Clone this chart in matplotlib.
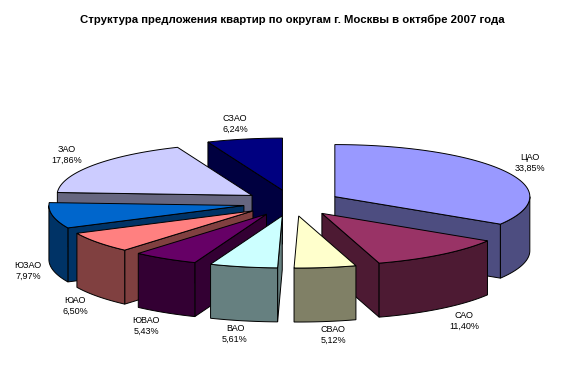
import numpy as np
import matplotlib
matplotlib.use("Agg")
import matplotlib.pyplot as plt
from matplotlib.patches import Polygon

title = "Структура предложения квартир по округам г. Москвы в октябре 2007 года"
districts = ["ЦАО", "САО", "СВАО", "ВАО", "ЮВАО", "ЮАО", "ЮЗАО", "ЗАО", "СЗАО"]
shares = [33.85, 11.40, 5.12, 5.61, 5.43, 6.50, 7.97, 17.86, 6.24]

top_colors = ["#9999FF", "#993366", "#FFFFCC", "#CCFFFF", "#660066",
              "#FF8080", "#0066CC", "#CCCCFF", "#000080"]
side_colors = ["#4D4D80", "#4D1A33", "#808066", "#668080", "#330033",
               "#804040", "#003366", "#666680", "#000040"]

# layout, in pixels of the figure
CX, CY, RX, SQUASH, EXPLODE, DEPTH = 292.0, 203.0, 195.0, 0.267, 49.0, 54.0
label_xy = {"ЦАО": (530, 163), "САО": (464, 321), "СВАО": (333, 335),
            "ВАО": (235, 334), "ЮВАО": (146, 326), "ЮАО": (75, 306),
            "ЮЗАО": (28, 271), "ЗАО": (67, 155), "СЗАО": (235, 124)}
draw_order = ["СЗАО", "ЗАО", "ЮЗАО", "ЮАО", "ЮВАО", "ВАО", "ЦАО", "САО", "СВАО"]

plt.rcParams["font.family"] = ["Liberation Sans", "DejaVu Sans"]
fig = plt.figure(figsize=(5.74, 3.76), dpi=100, facecolor="white")
ax = fig.add_axes([0, 0, 1, 1])
ax.set_xlim(0, 574)
ax.set_ylim(376, 0)
ax.axis("off")


def project(ax_, ay_, deg, r):
    t = np.radians(deg)
    return np.column_stack([ax_ + r * np.sin(t), ay_ - r * SQUASH * np.cos(t)])


def face(points, color, z):
    ax.add_patch(Polygon(points, closed=True, facecolor=color, edgecolor="black",
                         linewidth=0.7, joinstyle="miter", antialiased=True, zorder=z))


total = sum(shares)
edges = np.concatenate([[0], np.cumsum(shares)]) / total * 360.0

for name in draw_order:
    i = districts.index(name)
    base = 10 * (draw_order.index(name) + 1)
    a0, a1 = edges[i], edges[i + 1]
    mid = np.radians((a0 + a1) / 2)
    px = CX + EXPLODE * np.sin(mid)
    py = CY - EXPLODE * SQUASH * np.cos(mid)
    apex = np.array([[px, py]])
    down = np.array([0, DEPTH])

    # radial faces that look towards the viewer
    for deg, visible in ((a0, np.sin(np.radians(a0)) < 0),
                         (a1, np.sin(np.radians(a1)) > 0)):
        if visible:
            rim = project(px, py, np.array([deg]), RX)
            face(np.vstack([apex, rim, rim + down, apex + down]),
                 side_colors[i], base)

    # outer wall, front half only
    w0, w1 = max(a0, 90.0), min(a1, 270.0)
    if w1 > w0:
        arc = project(px, py, np.linspace(w0, w1, 60), RX)
        face(np.vstack([arc, (arc + down)[::-1]]), side_colors[i], base + 1)

    # top face
    arc = project(px, py, np.linspace(a0, a1, 120), RX)
    face(np.vstack([apex, arc]), top_colors[i], base + 2)

for name, share in zip(districts, shares):
    x, y = label_xy[name]
    ax.text(x, y, f"{name}\n{share:.2f}%".replace(".", ","), ha="center", va="center",
            fontsize=6.5, color="black", linespacing=1.15, zorder=200)

ax.text(292, 19.5, title, ha="center", va="center", fontsize=8.2,
        fontweight="bold", color="black", zorder=200)

fig.savefig("out.png", dpi=100, facecolor="white")
